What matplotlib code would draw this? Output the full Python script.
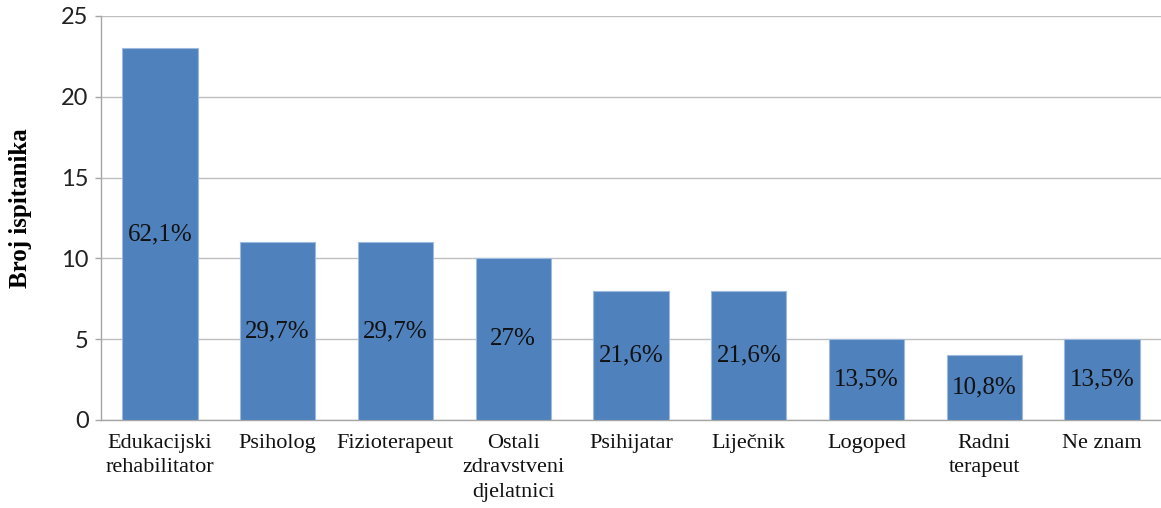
import matplotlib
matplotlib.use("Agg")
import matplotlib.pyplot as plt

categories = ["Edukacijski\nrehabilitator", "Psiholog", "Fizioterapeut", "Ostali\nzdravstveni\ndjelatnici",
              "Psihijatar", "Liječnik", "Logoped", "Radni\nterapeut", "Ne znam"]
counts = [23, 11, 11, 10, 8, 8, 5, 4, 5]
percent_labels = ["62,1%", "29,7%", "29,7%", "27%", "21,6%", "21,6%", "13,5%", "10,8%", "13,5%"]
yticks = [0, 5, 10, 15, 20, 25]

fig = plt.figure(figsize=(11.61, 5.08), dpi=100)
ax = fig.add_axes([101/1161, 1 - 420/508, 1 - 101/1161, (420 - 16)/508])

x = range(len(categories))
bars = ax.bar(x, counts, width=0.64, color="#4F81BD", edgecolor="#9DB9DE", linewidth=0.8, zorder=3)
for b, lab, v in zip(bars, percent_labels, counts):
    ax.text(b.get_x() + b.get_width() / 2, v / 2, lab, ha="center", va="center",
            fontsize=18, family="Liberation Serif", color="#111111", zorder=4)

ax.set_xlim(-0.5, len(categories) - 0.5)
ax.set_ylim(0, 25)
ax.set_yticks(yticks)
ax.set_yticklabels([str(t) for t in yticks], fontsize=17, family="Lato", color="#222222")
ax.set_xticks(list(x))
ax.set_xticklabels(categories, fontsize=16, family="Liberation Serif", color="#111111", linespacing=1.4)
ax.tick_params(axis="x", length=0, pad=10)
ax.tick_params(axis="y", length=4, color="#A6A6A6", width=1, pad=5)
ax.grid(axis="y", color="#BFBFBF", linewidth=1, zorder=0)
for s in ["top", "right"]:
    ax.spines[s].set_visible(False)
for s in ["left", "bottom"]:
    ax.spines[s].set_color("#A6A6A6")
    ax.spines[s].set_linewidth(1)
ax.set_ylabel("Broj ispitanika", fontsize=18, family="Liberation Serif", fontweight="bold",
              va="center")
ax.yaxis.set_label_coords(-0.0764, 0.525)

fig.savefig("out.png", dpi=100)
